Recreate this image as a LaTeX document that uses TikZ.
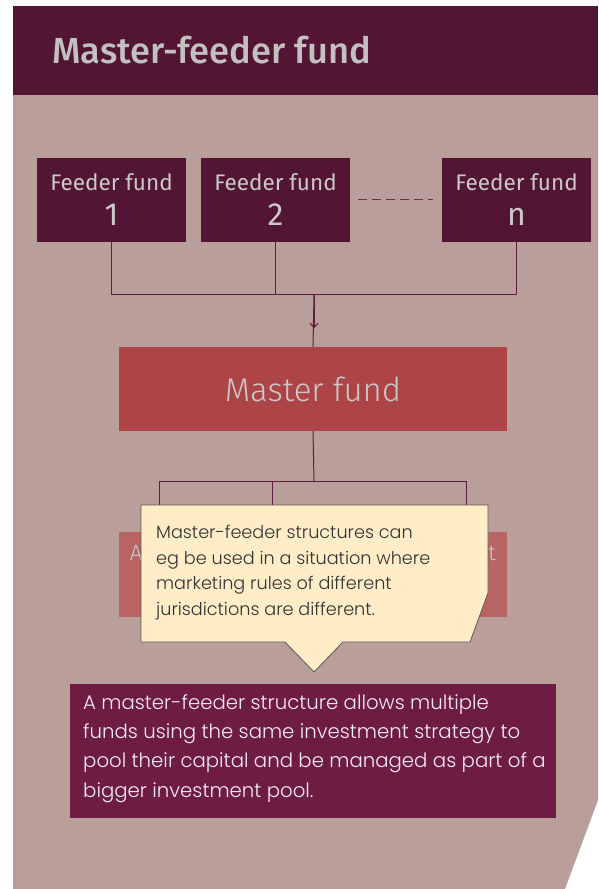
\documentclass[tikz,border=0pt]{standalone}
\usepackage{fontspec}
\setmainfont{Fira Sans}
\newfontfamily\lightfont{Fira Sans Light}
\IfFontExistsTF{Fira Sans Medium}{\newfontfamily\titlefont{Fira Sans Medium}\newcommand\titlesize{36.3}}{\newfontfamily\titlefont{Fira Sans}\newcommand\titlesize{36.5}}
\IfFontExistsTF{Poppins Light}{\newfontfamily\bodyfont{Poppins Light}\newcommand\bodyscale{0.88}\newcommand\calloutscale{0.905}}{\newfontfamily\bodyfont{Fira Sans Light}\newcommand\bodyscale{1.0}\newcommand\calloutscale{1.0}}
\usetikzlibrary{arrows.meta,calc}
\definecolor{bgpink}{HTML}{BA9E99}
\definecolor{plum}{HTML}{521533}
\definecolor{masterred}{HTML}{AD4446}
\definecolor{fadered}{HTML}{B86462}
\definecolor{cream}{HTML}{FFEDC8}
\definecolor{wine}{HTML}{6F1C45}
\definecolor{linec}{HTML}{5E1E3C}
\definecolor{greytxt}{HTML}{CCC8CA}
\definecolor{titlegrey}{HTML}{C2C0C1}
\tikzset{
  feeder/.style={fill=plum, minimum width=149pt, minimum height=84pt, inner sep=0pt, text=greytxt, align=center, font=\fontsize{22.5}{24}\selectfont},
  conn/.style={draw=linec, line width=1pt},
}
\begin{document}
\begin{tikzpicture}[x=1pt,y=-1pt]
\useasboundingbox (0,0) rectangle (598,889);
% background
\fill[bgpink] (13,95) -- (598,95) -- (598,800) -- (565,889) -- (13,889) -- cycle;
% header
\fill[plum] (13,6) rectangle (598,95);
\node[anchor=west, text=titlegrey, font=\fontsize{\titlesize}{40}\selectfont\titlefont, inner sep=0pt] (title) at (52,50) {Master-feeder fund};
% feeders
\node[feeder] (f1) at (111.5,199.5) {Feeder fund\\[11pt]{\fontsize{32}{32}\selectfont 1}};
\node[feeder] (f2) at (275.5,199.5) {Feeder fund\\[11pt]{\fontsize{32}{32}\selectfont 2}};
\node[feeder] (fn) at (516.5,199.5) {Feeder fund\\[11pt]{\fontsize{32}{32}\selectfont n}};
\draw[draw=linec!85!bgpink, line width=1pt, dash pattern=on 9pt off 5pt] (f2.east) ++(8,0) coordinate (d1) -- ($(fn.west)+(-9,0)$) coordinate (d2);
% master
\node[fill=masterred, minimum width=388pt, minimum height=84pt, inner sep=0pt, text=greytxt, font=\fontsize{33}{36}\selectfont\lightfont] (master) at (313,389) {Master fund};
% feeder connectors
\coordinate (j) at (314,294);
\draw[conn] (f1.south) |- (j);
\draw[conn] (fn.south) |- (j);
\draw[conn] (f2.south) -- (f2.south |- j);
\draw[conn] (j) -- (master.north);
\draw[conn, -{Straight Barb[length=4pt,width=8pt]}] (j) -- (314,328);
% hidden boxes
\fill[fadered] (119,532) rectangle (507,617);
\node[text=greytxt, font=\fontsize{22}{24}\selectfont\lightfont, inner sep=0pt] (ha) at (136,553) {A};
\node[text=greytxt, font=\fontsize{22}{24}\selectfont\lightfont, inner sep=0pt] (ht) at (492,553) {t};
% lower connectors
\coordinate (k) at (314,481);
\coordinate (k1) at (159,481);
\coordinate (k3) at (466,481);
\coordinate (k2) at (272,481);
\draw[conn] (master.south) -- (k);
\draw[conn] (k1) -- (k3);
\draw[conn] (k1) -- (159,520);
\draw[conn] (k2) -- (272,520);
\draw[conn] (k3) -- (466,520);
% callout
\filldraw[fill=cream, draw=black!65, line width=0.8pt] (141,505) -- (488,505) -- (488,593) -- (470,642) -- (343,642) -- (314,672) -- (285,642) -- (141,642) -- cycle;
\node[anchor=north west, align=left, inner sep=0pt, text=black!80, font=\fontsize{\calloutscale\dimexpr 19.5pt\relax}{25.7}\selectfont\bodyfont] (callout) at (156,525) {Master-feeder structures can\\eg be used in a situation where\\marketing rules of different\\jurisdictions are different.};
% bottom box
\fill[wine] (70,684) rectangle (556,818);
\node[anchor=north west, align=left, inner sep=0pt, text=white!92!wine, font=\fontsize{\bodyscale\dimexpr 22.4pt\relax}{29.3}\selectfont\bodyfont] (note) at (83,694) {A master-feeder structure allows multiple\\funds using the same investment strategy to\\pool their capital and be managed as part of a\\bigger investment pool.};
\end{tikzpicture}
\end{document}
